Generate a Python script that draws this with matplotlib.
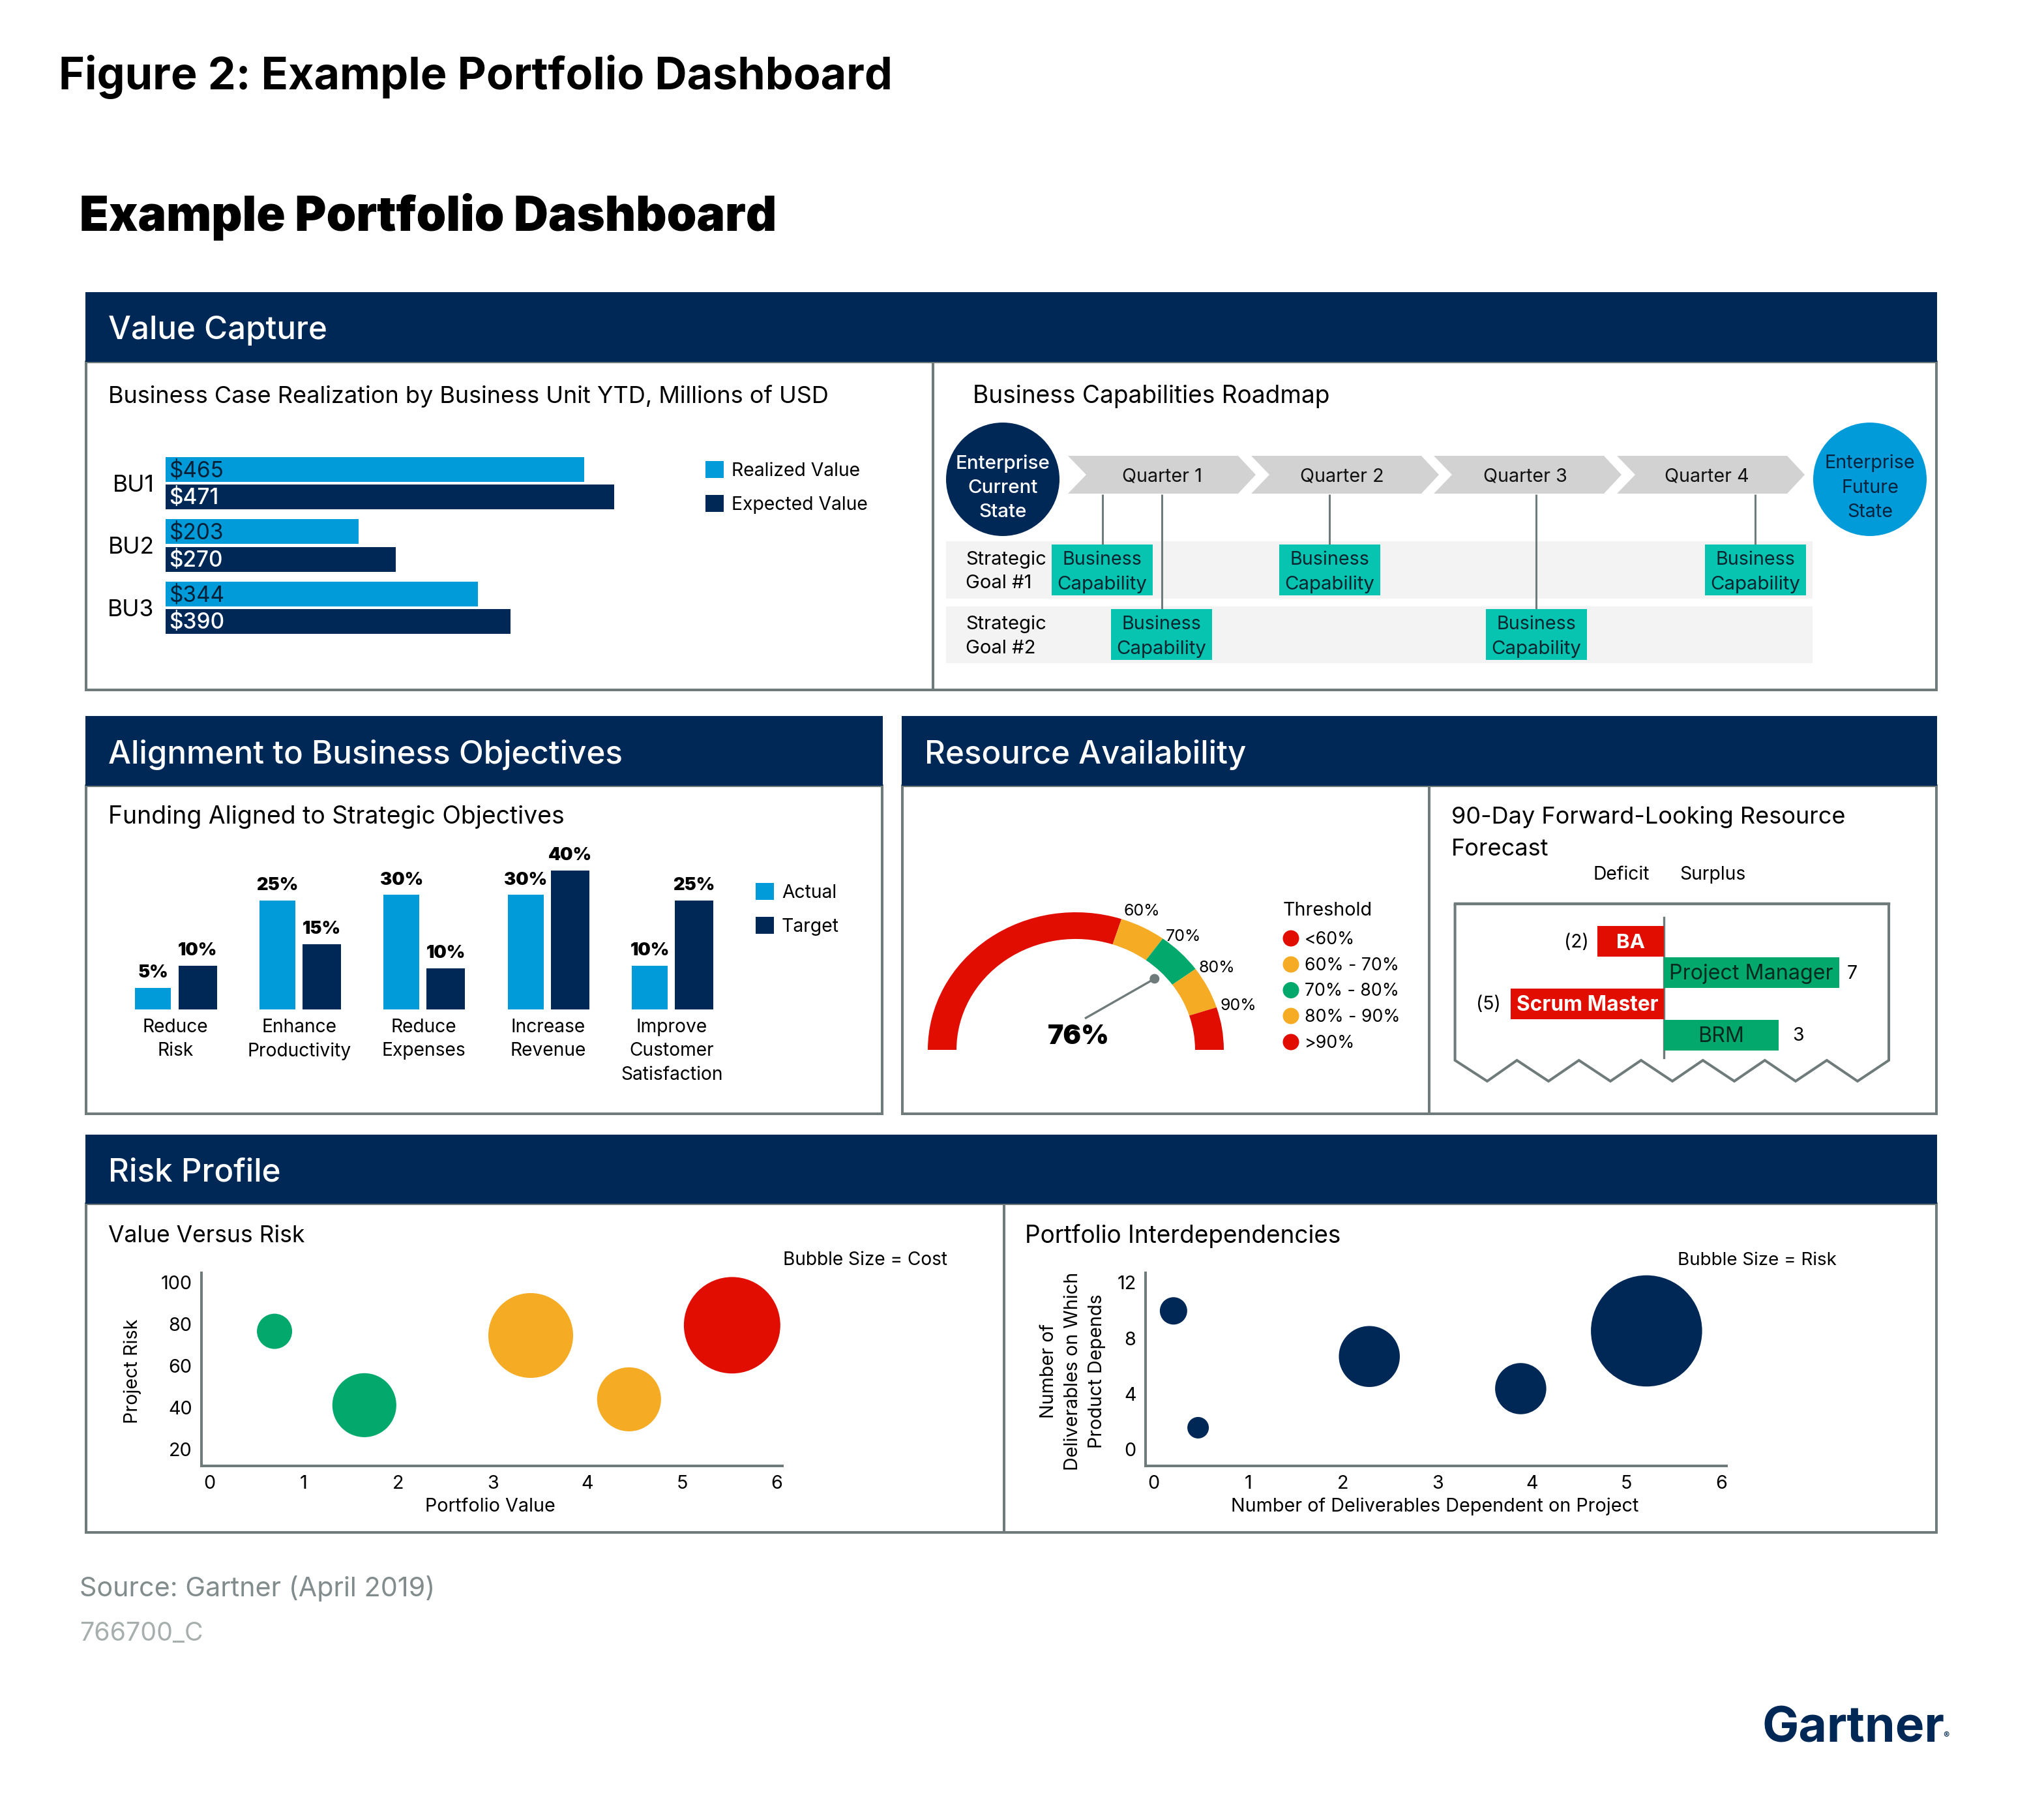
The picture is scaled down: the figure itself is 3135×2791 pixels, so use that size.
import matplotlib
matplotlib.use("Agg")
import numpy as np
import matplotlib.pyplot as plt
from matplotlib.patches import Rectangle, Polygon, Wedge, Ellipse, Circle

W, H = 3135, 2791
FONT = ['Inter', 'DejaVu Sans']
plt.rcParams['font.family'] = FONT

NAVY, BLUE, RED, AMBER, GREEN = '#002856', '#009BD8', '#E00D00', '#F5AB23', '#02A86C'
TEAL, GRAY, BAND, CHEV = '#07C4B0', '#6F7B7B', '#F3F3F3', '#D2D2D2'

# ---------- data ----------
bu_names = ['BU1', 'BU2', 'BU3']
realized_labels = ['$465', '$203', '$344']
expected_labels = ['$471', '$270', '$390']
realized_bars = [440, 203, 328]
expected_bars = [471, 242, 362]

objectives = ['Reduce\nRisk', 'Enhance\nProductivity', 'Reduce\nExpenses', 'Increase\nRevenue',
              'Improve\nCustomer\nSatisfaction']
actual_labels = ['5%', '25%', '30%', '30%', '10%']
target_labels = ['10%', '15%', '10%', '40%', '25%']
actual_bars = [5, 25, 26.3, 26.3, 10]
target_bars = [10, 15, 9.4, 31.9, 25]

gauge_value = 76
gauge_thresholds = [0, 60, 70, 80, 90, 100]
gauge_colors = [RED, AMBER, GREEN, AMBER, RED]
threshold_labels = ['<60%', '60% - 70%', '70% - 80%', '80% - 90%', '>90%']

roles = ['BA', 'Project Manager', 'Scrum Master', 'BRM']
role_bars = [-2.05, 5.37, -4.7, 3.52]
role_labels = ['(2)', '7', '(5)', '3']

vr_value = [0.69, 1.64, 3.40, 4.44, 5.53]
vr_risk = [76.6, 41.2, 74.6, 44.0, 79.5]
vr_cost = [1.0, 3.3, 5.8, 3.3, 7.5]
vr_colors = [GREEN, GREEN, AMBER, AMBER, RED]

dep_out = [0.21, 0.47, 2.28, 3.88, 5.21]
dep_in = [9.96, 1.56, 6.68, 4.37, 8.52]
dep_risk = [1.62, 1.0, 8.03, 5.66, 26.7]

quarters = ['Quarter 1', 'Quarter 2', 'Quarter 3', 'Quarter 4']

# ---------- helpers ----------
fig = plt.figure(figsize=(W / 100, H / 100), dpi=100, facecolor='white')
ov = fig.add_axes([0, 0, 1, 1], zorder=0)
ov.set_xlim(0, W)
ov.set_ylim(H, 0)
ov.axis('off')

S_HEAD, S_SUB, S_BODY = 35.5, 26.1, 20.7


def axpx(x0, y0, x1, y1):
    a = fig.add_axes([x0 / W, 1 - y1 / H, (x1 - x0) / W, (y1 - y0) / H], zorder=2)
    a.patch.set_alpha(0)
    return a


def T(x, y, s, size=S_BODY, color='black', ha='left', weight='normal', **kw):
    kw.setdefault('va', 'center')
    return ov.text(x, y + 2.5, s, fontsize=size, color=color, ha=ha, fontweight=weight, **kw)


def panel(x0, x1, top, hdr, bottom, title, dividers=()):
    ov.add_patch(Rectangle((x0, hdr), x1 - x0, bottom - hdr, fc='white', ec=GRAY, lw=2.9, zorder=1))
    ov.add_patch(Rectangle((x0 - 1, top), x1 - x0 + 2, hdr - top, fc=NAVY, ec='none', zorder=2))
    T(x0 + 34, (top + hdr) / 2 + 3, title, size=S_HEAD, color='white', weight='medium', zorder=3)
    for d in dividers:
        ov.plot([d, d], [hdr, bottom], color=GRAY, lw=2.9, zorder=2, solid_capstyle='butt')


# ---------- titles ----------
T(90, 115, 'Figure 2: Example Portfolio Dashboard', size=49.1, weight='bold')
T(122, 330, 'Example Portfolio Dashboard', size=52.8, weight='black')

panel(132, 2970, 448, 555, 1058, 'Value Capture', [1431])
panel(132, 1353, 1098, 1205, 1708, 'Alignment to Business Objectives')
panel(1384, 2970, 1098, 1205, 1708, 'Resource Availability', [2192])
panel(132, 2970, 1740, 1846, 2350, 'Risk Profile', [1540])

# ---------- business case bars ----------
T(166, 605, 'Business Case Realization by Business Unit YTD, Millions of USD', size=26)
ax = axpx(254, 693.25, 984, 979.75)
pos = np.arange(3)
b1 = ax.barh(pos - 0.22, realized_bars, height=0.398, color=BLUE, label='Realized Value')
b2 = ax.barh(pos + 0.22, expected_bars, height=0.398, color=NAVY, label='Expected Value')
ax.set_xlim(0, 500)
ax.set_ylim(2.5, -0.5)
ax.set_yticks(pos, bu_names, fontsize=25.5)
ax.set_xticks([])
ax.tick_params(length=0, pad=12.5)
for s in ax.spines.values():
    s.set_visible(False)
for i in range(3):
    ax.annotate(realized_labels[i], (0, i - 0.22), xytext=(4, -1.5), textcoords='offset points',
                va='center', fontsize=24, color='#062038')
    ax.annotate(expected_labels[i], (0, i + 0.22), xytext=(4, -1.5), textcoords='offset points',
                va='center', fontsize=24, color='white', fontweight='medium')
ax.legend(loc='upper left', bbox_to_anchor=(1082 / W, 1 - 707 / H), bbox_transform=fig.transFigure,
          frameon=False, fontsize=S_BODY - 0.3, handlelength=1.0, handleheight=1.03, handletextpad=0.41,
          labelspacing=0.84, borderpad=0, borderaxespad=0)

# ---------- roadmap ----------
T(1492, 605, 'Business Capabilities Roadmap', size=26.7)
ov.add_patch(Circle((1538, 735), 87, fc=NAVY, ec='none', zorder=3))
ov.add_patch(Circle((2868, 735), 87, fc=BLUE, ec='none', zorder=3))
for y, s in zip([708, 746, 783], ['Enterprise', 'Current', 'State']):
    T(1538, y, s, size=21.3, color='white', ha='center', weight='medium', zorder=4)
for y, s in zip([708, 746, 783], ['Enterprise', 'Future', 'State']):
    T(2868, y, s, color='#04233f', ha='center', zorder=4)
chev_left = [1638, 1919, 2199, 2480]
for xl, xc, q in zip(chev_left, [1782, 2058, 2339, 2618], quarters):
    ov.add_patch(Polygon([(xl, 699), (xl + 261, 699), (xl + 288, 728), (xl + 261, 757), (xl, 757), (xl + 28, 728)],
                         closed=True, fc=CHEV, ec='none', zorder=3))
    T(xc, 728, q, ha='center', color='#111111', zorder=4)
for y0, y1 in [(830, 918), (930, 1017)]:
    ov.add_patch(Rectangle((1451, y0), 1329, y1 - y0, fc=BAND, ec='none', zorder=2))
for (y1, y2), g in zip([(856, 892), (955, 992)], ['Goal #1', 'Goal #2']):
    T(1481, y1, 'Strategic', size=21, zorder=4)
    T(1481, y2, g, size=21, zorder=4)
for cx, row in [(1690.5, 0), (2039, 0), (2692, 0), (1781.5, 1), (2356, 1)]:
    top, bot = [(835, 913), (934, 1012)][row]
    ov.plot([cx, cx], [758, top], color=GRAY, lw=2.2, zorder=3, solid_capstyle='butt')
    ov.add_patch(Rectangle((cx - 77.5, top), 155, bot - top, fc=TEAL, ec='none', zorder=3))
    T(cx, top + 21, 'Business', ha='center', color='#0b2530', zorder=4)
    T(cx, top + 59, 'Capability', size=21.2, ha='center', color='#0b2530', zorder=4)

# ---------- funding columns ----------
T(166, 1250, 'Funding Aligned to Strategic Objectives', size=26.9)
ax = axpx(173.8, 1281, 1125.8, 1548)
pos = np.arange(5)
ax.bar(pos - 0.179, actual_bars, width=0.289, color=BLUE, label='Actual')
ax.bar(pos + 0.179, target_bars, width=0.31, color=NAVY, label='Target')
ax.set_xlim(-0.5, 4.5)
ax.set_ylim(0, 40)
ax.set_yticks([])
ax.set_xticks(pos, objectives, fontsize=S_BODY - 0.4, linespacing=1.45)
ax.tick_params(length=0, pad=10)
for s in ax.spines.values():
    s.set_visible(False)
for i in range(5):
    ax.annotate(actual_labels[i], (i - 0.179, actual_bars[i]), xytext=(0, 16.5), textcoords='offset points',
                ha='center', va='center', fontsize=S_BODY - 1, fontweight='black')
    ax.annotate(target_labels[i], (i + 0.179, target_bars[i]), xytext=(0, 16.5), textcoords='offset points',
                ha='center', va='center', fontsize=S_BODY - 1, fontweight='black')
ax.legend(loc='upper left', bbox_to_anchor=(1159 / W, 1 - 1354 / H), bbox_transform=fig.transFigure,
          frameon=False, fontsize=S_BODY - 0.3, handlelength=1.0, handleheight=1.03, handletextpad=0.41,
          labelspacing=0.84, borderpad=0, borderaxespad=0)

# ---------- gauge ----------
ax = axpx(1423, 1399, 1877, 1610)
ax.set_xlim(-1, 1)
ax.set_ylim(0, 1)
ax.axis('off')
for lo, hi, c in zip(gauge_thresholds[:-1], gauge_thresholds[1:], gauge_colors):
    ax.add_patch(Wedge((0, 0), 1, 180 * (1 - hi / 100), 180 * (1 - lo / 100), width=0.194, fc=c, ec='none'))
ang = np.deg2rad(180 * (1 - gauge_value / 100))
tip = (0.73 * np.cos(ang), 0.755 * np.sin(ang))
ax.plot([0.068, tip[0]], [0.232, tip[1]], color=GRAY, lw=2.4)
ax.add_patch(Ellipse(tip, 0.066, 0.07, fc=GRAY, ec='none'))
for th, (x, y) in zip(gauge_thresholds[1:-1], [(1751, 1395), (1815, 1434), (1866, 1482), (1899, 1540)]):
    T(x, y, f'{th}%', size=18, ha='center', zorder=4)
T(1654, 1587, f'{gauge_value}%', size=29.5, ha='center', weight='black', zorder=4)
T(1968, 1394, 'Threshold', zorder=4)
for y, lab, c in zip([1439, 1479, 1518.5, 1558, 1598], threshold_labels, gauge_colors):
    ov.add_patch(Circle((1980, y), 12.5, fc=c, ec='none', zorder=3))
    T(2001, y - 1, lab, size=19.2, zorder=4)

# ---------- forecast ----------
T(2226, 1250, '90-Day Forward-Looking Resource', size=26)
T(2226, 1300, 'Forecast', size=26)
T(2487, 1339, 'Deficit', size=20.4, ha='center')
T(2627, 1339, 'Surplus', size=20.4, ha='center')
zig_x = [2231.6, 2231.6, 2281, 2326.6, 2375, 2421.7, 2470, 2517, 2565, 2611.8, 2660, 2706.8, 2754, 2801.9, 2849, 2897, 2897]
zig_y = [1386, 1626, 1658, 1626, 1658, 1626, 1658, 1626, 1658, 1626, 1658, 1626, 1658, 1626, 1658, 1626, 1386]
ov.add_patch(Polygon(list(zip(zig_x, zig_y)), closed=False, fill=False, ec=GRAY, lw=2.9, zorder=3))
ov.plot([zig_x[0], zig_x[-1]], [zig_y[0], zig_y[-1]], color=GRAY, lw=3.2, zorder=3)
ax = axpx(2252, 1420, 2852, 1611)
pos = np.arange(4)
colors = [RED, GREEN, RED, GREEN]
ax.barh(pos, role_bars, height=0.985, color=colors)
ax.set_xlim(-6, 6)
ax.set_ylim(3.5, -0.5)
ax.axis('off')
ov.plot([2552, 2552], [1407, 1622], color=GRAY, lw=2.4, zorder=5)
txtc = ['white', '#062a20', 'white', '#062a20']
wt = ['bold', 'normal', 'bold', 'normal']
tsize = [22.5, 23.2, 22.8, 23.2]
label_gap = [32, 20, 34, 30]
for i in range(4):
    ax.annotate(roles[i], (role_bars[i] / 2, i), xytext=(0, -1.5), textcoords='offset points',
                ha='center', va='center', fontsize=tsize[i], color=txtc[i], fontweight=wt[i])
    off = label_gap[i] if role_bars[i] > 0 else -label_gap[i]
    ax.annotate(role_labels[i], (role_bars[i], i), xytext=(off * 0.72, -1), textcoords='offset points',
                ha='center', va='center', fontsize=20.4)

# ---------- bubble charts ----------
def style_bubble(ax):
    for n in ('top', 'right'):
        ax.spines[n].set_visible(False)
    for n in ('left', 'bottom'):
        ax.spines[n].set_linewidth(2.9)
        ax.spines[n].set_color(GRAY)
    ax.tick_params(length=0, labelsize=S_BODY)
    ax.tick_params(axis='x', pad=10)
    ax.tick_params(axis='y', pad=10)


AX_TOP, AX_BOT = 1951.7, 2247.7
T(166, 1893, 'Value Versus Risk', size=25.6)
T(1201, 1930, 'Bubble Size = Cost', size=20.2)
ax = axpx(308.6, AX_TOP, 1199.6, AX_BOT)
ax.scatter(vr_value, vr_risk, s=np.array(vr_cost) * 1512, c=vr_colors, linewidths=0, clip_on=False)
ax.set_xlim((308.6 - 321) / 145, (1199.6 - 321) / 145)
ax.set_ylim(20 - (AX_BOT - 2222.7) / 3.2, 20 + (2222.7 - AX_TOP) / 3.2)
ax.set_xticks(range(7))
ax.set_yticks([20, 40, 60, 80, 100])
style_bubble(ax)
T(203, 2100, 'Project Risk', rotation=90, ha='center', zorder=4)
T(752, 2308, 'Portfolio Value', ha='center', zorder=4)

T(1572, 1893, 'Portfolio Interdependencies', size=26.6)
T(2573, 1930, 'Bubble Size = Risk', size=20)
ax = axpx(1756.5, AX_TOP, 2648, AX_BOT)
ax.scatter(dep_out, dep_in, s=np.array(dep_risk) * 564.5, c=NAVY, linewidths=0, clip_on=False)
ax.set_xlim((1756.5 - 1769.4) / 145.1, (2648 - 1769.4) / 145.1)
ax.set_ylim(-(AX_BOT - 2222.7) / 21.33, (2222.7 - AX_TOP) / 21.33)
ax.set_xticks(range(7))
ax.set_yticks([0, 4, 8, 12])
style_bubble(ax)
for x, s in zip([1609, 1645.6, 1682.4], ['Number of', 'Deliverables on Which', 'Product Depends']):
    T(x, 2100, s, rotation=90, ha='center', zorder=4)
T(2201, 2308, 'Number of Deliverables Dependent on Project', ha='center', zorder=4)

# ---------- footer ----------
T(122, 2433, 'Source: Gartner (April 2019)', size=29.7, color='#828C8C')
T(122, 2503, '766700_C', size=28.3, color='#A7AEAE')
T(2702, 2649, 'Gartner', size=54, color=NAVY, weight='bold')
T(2980, 2660, '®', size=10, color=NAVY)

fig.savefig('out.png', dpi=100, facecolor='white')
